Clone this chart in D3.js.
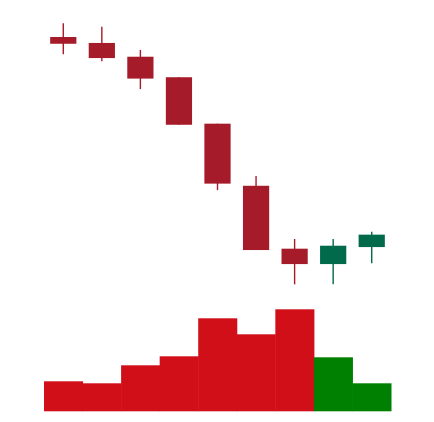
<!DOCTYPE html>
<html><head><meta charset="utf-8">
<script src="https://cdn.jsdelivr.net/npm/d3@7"></script>
<style>body{margin:0;background:#fff}svg{display:block}</style>
</head><body><svg id="c" width="434" height="422"></svg>
<script>
const days = ["D1","D2","D3","D4","D5","D6","D7","D8","D9"];
const open  = [133.7,131.5,126.4,118.8,101.6,78.6,55.3,49.6,55.9];
const close = [131.2,125.9,118.3,101.2,79.4,54.8,49.6,56.4,60.5];
const high  = [138.8,137.5,128.9,118.8,101.6,82.2,58.9,58.9,61.6];
const low   = [127.3,124.7,114.4,101.2,77.0,54.8,42.1,42.1,49.9];
const volume = [30,28,46,55,93,77,102,54,28];

const svg = d3.select("#c");
const x = d3.scaleBand().domain(days).range([44,391]).padding(0);
const y = d3.scaleLinear().domain([40,140]).range([290,20]);
const yv = d3.scaleLinear().domain([0,110]).range([411.3,301.3]);
const bw = x.bandwidth()*0.68;
const up = i => close[i] >= open[i];

svg.append("g").selectAll("rect").data(days).join("rect")
  .attr("x", d=>x(d)).attr("width", x.bandwidth()+0.5)
  .attr("y", (d,i)=>yv(volume[i])).attr("height", (d,i)=>yv(0)-yv(volume[i]))
  .attr("fill", (d,i)=>up(i)?"#008000":"#d10f19");

const g = svg.append("g");
g.selectAll("line").data(days).join("line")
  .attr("x1", d=>x(d)+x.bandwidth()/2).attr("x2", d=>x(d)+x.bandwidth()/2)
  .attr("y1", (d,i)=>y(high[i])).attr("y2", (d,i)=>y(low[i]))
  .attr("stroke", (d,i)=>up(i)?"#006a4a":"#a61b29").attr("stroke-width",1.4);
g.selectAll("rect").data(days).join("rect")
  .attr("x", d=>x(d)+(x.bandwidth()-bw)/2).attr("width", bw)
  .attr("y", (d,i)=>y(Math.max(open[i],close[i])))
  .attr("height", (d,i)=>Math.abs(y(open[i])-y(close[i])))
  .attr("fill", (d,i)=>up(i)?"#006a4a":"#a61b29");
</script></body></html>
